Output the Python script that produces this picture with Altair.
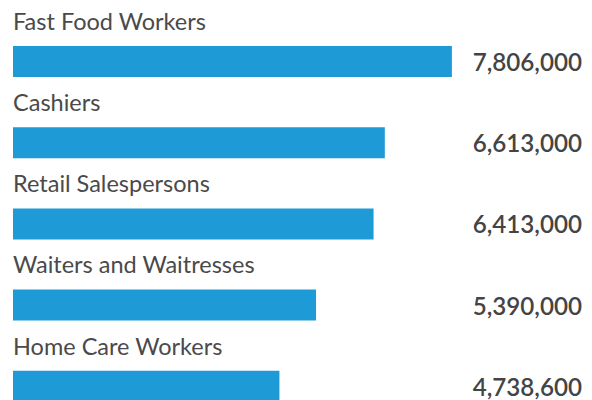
import altair as alt
import pandas as pd

categories = ["Fast Food Workers", "Cashiers", "Retail Salespersons",
              "Waiters and Waitresses", "Home Care Workers"]
values = [7806000, 6613000, 6413000, 5390000, 4738600]
value_labels = ["7,806,000", "6,613,000", "6,413,000", "5,390,000", "4,738,600"]

df = pd.DataFrame({"category": categories, "value": values, "label": value_labels})

FONT = "Lato"
y_enc = alt.Y("category:N", sort=categories, axis=None,
              scale=alt.Scale(paddingInner=0, paddingOuter=0))

bars = alt.Chart(df).mark_bar(color="#1E9AD6", height=31, yOffset=12.9).encode(
    x=alt.X("value:Q", axis=None, scale=alt.Scale(domain=[0, 10120000], nice=False)),
    y=y_enc,
)

names = alt.Chart(df).mark_text(
    align="left", baseline="alphabetic", font=FONT, fontSize=23.5,
    color="#4a4a4a", yOffset=-18.9
).encode(x=alt.value(0), y=y_enc, text="category:N")

nums = alt.Chart(df).mark_text(
    align="right", baseline="alphabetic", font=FONT, fontSize=24.2,
    fontWeight=600, color="#444444", yOffset=22.3
).encode(x=alt.value(569), y=y_enc, text="label:N")

chart = alt.layer(bars, names, nums).properties(
    width=569, height=406,
    padding={"left": 5, "top": 0, "right": 0, "bottom": 0},
).configure_view(stroke=None)

chart.save("out.html", embed_options={"renderer": "svg", "actions": False})
